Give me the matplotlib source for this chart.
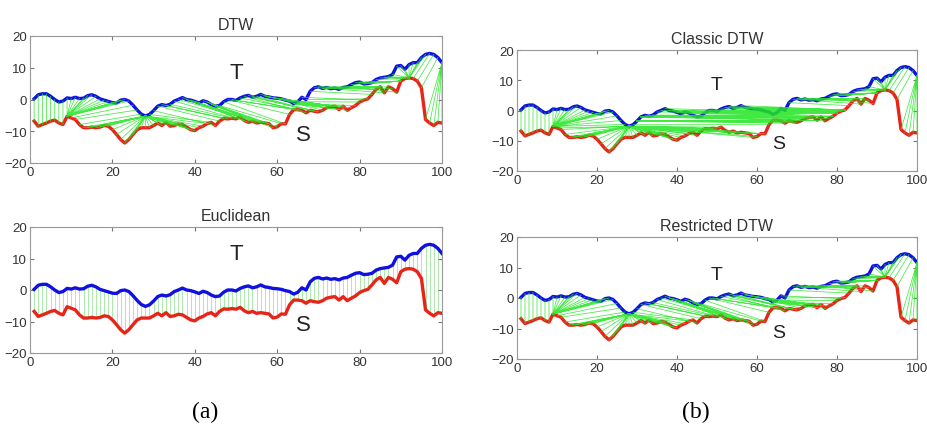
"""Four panels: T and S series with Euclidean / DTW alignment lines."""
import numpy as np
import matplotlib
matplotlib.use("Agg")
import matplotlib.pyplot as plt

# ---- data (x = 1..100) ---------------------------------------------------
t_vals = [0.2, 1.5, 1.8, 1.8, 1.0, 0.0, -0.8, -0.5, 0.5, 0.3,
          0.7, 0.3, 0.4, 1.2, 1.5, 1.0, 0.2, -0.2, -0.6, -1.0,
          -1.1, -0.2, 0.0, -0.5, -1.8, -3.3, -4.6, -5.2, -4.7, -3.5,
          -2.1, -1.6, -1.9, -1.5, -0.5, 0.0, 0.6, 0.0, -0.2, -0.6,
          -1.1, -0.4, -0.8, -1.6, -2.1, -1.9, -0.7, 0.0, 0.0, -0.3,
          0.5, 1.0, 1.3, 0.7, 1.0, 1.6, 1.0, 0.8, 0.5, 0.4,
          0.2, -0.2, -0.5, -1.3, -0.7, 0.7, 0.0, 2.6, 3.7, 4.0,
          3.5, 3.8, 3.4, 3.6, 3.2, 3.8, 4.0, 4.7, 5.3, 5.5,
          4.9, 5.0, 5.3, 6.3, 6.8, 7.0, 7.2, 7.9, 10.5, 10.7,
          9.5, 11.0, 11.6, 11.6, 13.2, 14.2, 14.5, 14.2, 13.2, 11.6]
s_vals = [-6.8, -8.4, -7.9, -7.4, -6.8, -6.5, -7.4, -7.9, -5.3, -5.8,
          -6.3, -7.9, -8.9, -8.9, -8.7, -8.9, -8.7, -8.2, -8.4, -9.5,
          -11.0, -12.6, -13.7, -12.6, -11.0, -9.5, -8.9, -8.9, -8.9, -8.2,
          -7.4, -8.2, -7.2, -8.4, -8.2, -7.7, -7.9, -8.7, -9.5, -9.8,
          -8.9, -8.4, -7.6, -7.2, -8.2, -6.8, -6.0, -6.1, -5.9, -6.1,
          -5.5, -6.6, -7.2, -6.8, -7.4, -7.2, -7.4, -7.6, -8.9, -8.6,
          -7.6, -7.7, -4.7, -3.2, -3.2, -3.4, -4.2, -3.4, -3.7, -3.9,
          -3.4, -2.6, -2.3, -2.1, -3.2, -2.1, -3.4, -2.6, -1.9, -0.8,
          -0.2, 0.2, 1.6, 3.2, 4.0, 2.1, 4.0, 3.4, 2.3, 5.8,
          6.6, 6.8, 6.6, 5.8, 3.7, -6.3, -7.4, -8.2, -7.2, -7.4]
x_vals = np.arange(1, len(t_vals) + 1)

panel_titles = ["DTW", "Euclidean", "Classic DTW", "Restricted DTW"]
panel_methods = ["band", "euclid", "full", "band"]
group_labels = ["(a)", "(b)"]
band_width = 15

T = np.array(t_vals)
S = np.array(s_vals)


def dtw_path(a, b, window=None):
    # squared-distance DTW, optional Sakoe-Chiba band
    n, m = len(a), len(b)
    w = max(n, m) if window is None else window
    D = np.full((n + 1, m + 1), np.inf)
    D[0, 0] = 0.0
    for i in range(1, n + 1):
        for j in range(max(1, i - w), min(m, i + w) + 1):
            c = (a[i - 1] - b[j - 1]) ** 2
            D[i, j] = c + min(D[i - 1, j], D[i, j - 1], D[i - 1, j - 1])
    i, j = n, m
    path = [(i - 1, j - 1)]
    while i > 1 or j > 1:
        steps = [(D[i - 1, j - 1], i - 1, j - 1), (D[i - 1, j], i - 1, j),
                 (D[i, j - 1], i, j - 1)]
        _, i, j = min(steps)
        path.append((i - 1, j - 1))
    return path[::-1]


def draw(ax, method, title, t_pos, s_pos, fs):
    if method == "euclid":
        pairs = [(k, k) for k in range(len(T))]
        col, lw, z = "#9ee69e", 0.7, 1
    else:
        pairs = dtw_path(T, S, band_width if method == "band" else None)
        col, lw, z = "#22e622", 0.55, 4
    xs, ys = [], []
    for i, j in pairs:
        xs += [x_vals[i], x_vals[j], np.nan]
        ys += [T[i], S[j], np.nan]
    ax.plot(x_vals, T, color="#1010e0", lw=2.4, zorder=3)
    ax.plot(x_vals, S, color="#e82418", lw=2.4, zorder=3)
    ax.plot(xs, ys, color=col, lw=lw, alpha=0.85, zorder=z)
    ax.set_xlim(0, 100); ax.set_ylim(-20, 20)
    ax.set_xticks(range(0, 101, 20)); ax.set_yticks(range(-20, 21, 10))
    ax.tick_params(direction="in", top=True, right=True, length=3,
                   labelsize=9.5, colors="#777777", labelcolor="#333333",
                   pad=2)
    for sp in ax.spines.values():
        sp.set_color("#999999"); sp.set_linewidth(0.8)
    ax.set_title(title, fontsize=11.5, color="#333333", pad=5)
    ax.text(*t_pos, "T", fontsize=fs, ha="center", va="center",
            color="#222222")
    ax.text(*s_pos, "S", fontsize=fs, ha="center", va="center",
            color="#222222")


plt.rcParams["font.family"] = ["Liberation Sans", "DejaVu Sans"]
W, H = 928, 435
fig = plt.figure(figsize=(W / 100, H / 100), dpi=100)


def box(l, t, r, b):
    return [l / W, 1 - b / H, (r - l) / W, (b - t) / H]


boxes = [box(30, 37, 442, 164), box(30, 228, 442, 354),
         box(517, 51, 917, 172), box(517, 238, 917, 360)]
t_positions = [(50, 8.5), (50, 11.5), (50, 8.5), (50, 7.7)]
s_positions = [(66.3, -11), (66.4, -11), (65.4, -11), (65.4, -11.4)]
sizes = [16, 16, 14, 14]

for k in range(4):
    ax = fig.add_axes(boxes[k])
    draw(ax, panel_methods[k], panel_titles[k], t_positions[k],
         s_positions[k], sizes[k])

fig.text(205 / W, 1 - 412 / H, group_labels[0], fontsize=17,
         family="Liberation Serif", ha="center", va="center")
fig.text(696 / W, 1 - 412 / H, group_labels[1], fontsize=17,
         family="Liberation Serif", ha="center", va="center")

fig.savefig("out.png", dpi=100)
